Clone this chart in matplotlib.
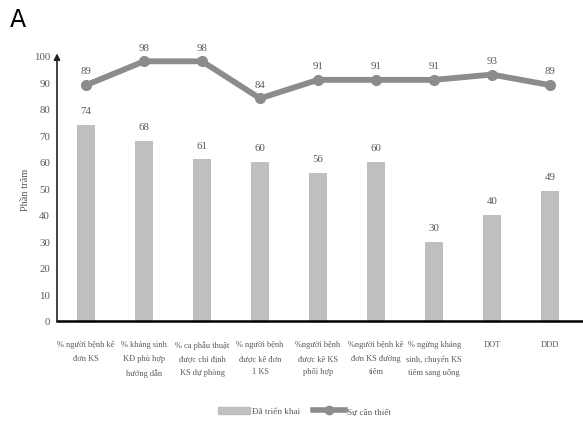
import matplotlib
matplotlib.use("Agg")
import matplotlib.pyplot as plt
from matplotlib.lines import Line2D
from matplotlib.patches import Patch

categories = [
    "% người bệnh kê\nđơn KS",
    "% kháng sinh\nKĐ phù hợp\nhướng dẫn",
    "% ca phẫu thuật\nđược chỉ định\nKS dự phòng",
    "% người bệnh\nđược kê đơn\n1 KS",
    "%người bệnh\nđược kê KS\nphối hợp",
    "%người bệnh kê\nđơn KS đường\ntiêm",
    "% ngừng kháng\nsinh, chuyển KS\ntiêm sang uống",
    "DOT",
    "DDD",
]
deployed = [74, 68, 61, 60, 56, 60, 30, 40, 49]     # Đã triển khai
necessity = [89, 98, 98, 84, 91, 91, 91, 93, 89]    # Sự cần thiết
yticks = list(range(0, 101, 10))

SERIF = "Liberation Serif"
TXT = "#595959"
BAR_C = "#bfbfbf"
LINE_C = "#8c8c8c"

fig = plt.figure(figsize=(5.83, 4.27), dpi=100)
ax = fig.add_axes([57 / 583, 1 - 322 / 427, 525 / 583, 265 / 427])

x = list(range(len(categories)))
ax.bar(x, deployed, width=0.31, color=BAR_C, zorder=2)
ax.plot(x, necessity, color=LINE_C, lw=4.2, marker="o", ms=7, zorder=3,
        solid_capstyle="round")

for xi, v in zip(x, deployed):
    ax.annotate(str(v), (xi, v), xytext=(0, 7), textcoords="offset points",
                ha="center", va="bottom", fontsize=7.8, family=SERIF, color=TXT)
for xi, v in zip(x, necessity):
    ax.annotate(str(v), (xi, v), xytext=(0, 7), textcoords="offset points",
                ha="center", va="bottom", fontsize=7.8, family=SERIF, color=TXT)

ax.set_xlim(-0.5, 8.55)
ax.set_ylim(0, 100)
ax.set_yticks(yticks)
ax.set_xticks(x)
ax.tick_params(axis="both", length=0, colors=TXT)
ax.tick_params(axis="y", labelsize=7.8, pad=5)
ax.tick_params(axis="x", pad=14)
ax.set_xticklabels(categories, fontsize=6.0, family=SERIF, color=TXT,
                   linespacing=1.9)
for lab in ax.get_yticklabels():
    lab.set_family(SERIF)

for s in ("top", "right", "left"):
    ax.spines[s].set_visible(False)
ax.spines["bottom"].set_linewidth(1.8)
ax.spines["bottom"].set_color("black")

# y axis drawn as an arrow
ax.annotate("", xy=(0, 1.01), xycoords="axes fraction", xytext=(0, 0),
            textcoords="axes fraction",
            arrowprops=dict(arrowstyle="-|>", color="#222222", lw=1.2,
                            mutation_scale=9, shrinkA=0, shrinkB=0))

ax.set_ylabel("Phần trăm", fontsize=7.5, family=SERIF, color=TXT, labelpad=3)

handles = [Patch(color=BAR_C, label="Đã triển khai"),
           Line2D([], [], color=LINE_C, lw=4, marker="o", ms=6,
                  label="Sự cần thiết")]
fig.legend(handles=handles, loc="center", bbox_to_anchor=(305 / 583, 1 - 412 / 427),
           ncol=2, frameon=False, prop={"family": SERIF, "size": 6.6},
           labelcolor=TXT, handlelength=3.4, handleheight=0.8, columnspacing=1.4,
           handletextpad=0.3)

fig.text(10 / 583, 1 - 20 / 427, "A", fontsize=17, family="DejaVu Sans",
         va="center", ha="left")

fig.savefig("out.png", dpi=100)
